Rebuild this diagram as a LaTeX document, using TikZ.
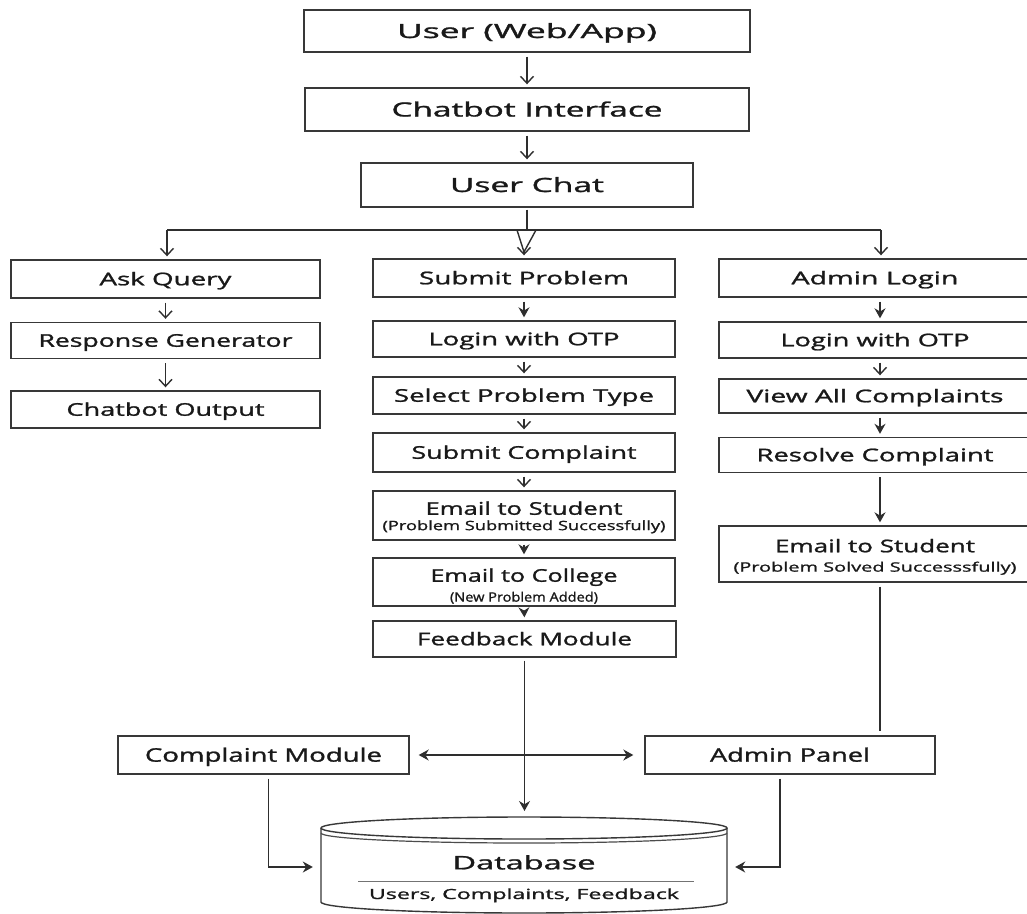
\documentclass[tikz,border=0pt]{standalone}
\usepackage{fontspec}
\setmainfont{Open Sans}[FakeBold=1.2]
\usetikzlibrary{arrows.meta,calc}
\newcommand\tw[2]{\resizebox{#1pt}{\height}{#2}}
\tikzset{
 box/.style={draw=black!78, line width=1.4pt, inner sep=0pt, text=black!90, text depth=0pt},
 fbig/.style={font=\fontsize{19.6}{23}\selectfont, text height=14pt},
 fmid/.style={font=\fontsize{17.5}{21}\selectfont, text height=12.5pt},
 fbot/.style={font=\fontsize{18.6}{22}\selectfont, text height=13.3pt},
 fsub/.style={font=\fontsize{13}{15}\selectfont, text height=9.3pt},
 fdb/.style={font=\fontsize{14}{16}\selectfont, text height=10pt},
 txt/.style={inner sep=0pt, text=black!90, text depth=0pt},
 conn/.style={draw=black!82, line width=1.4pt},
 arrv/.style={conn, -{Straight Barb[length=7pt,width=13pt,line width=1.4pt]}},
 arrf/.style={conn, -{Stealth[length=10pt,width=11pt]}},
 gap/.style={shorten <=4pt, shorten >=3pt},
}
\begin{document}
\begin{tikzpicture}[x=1pt,y=-1pt]
\useasboundingbox (0,0) rectangle (1027,913);
% top chain
\node[box,fbig,minimum width=446pt,minimum height=42pt] (user) at (527,31) {\tw{260}{User (Web/App)}};
\node[box,fbig,minimum width=444pt,minimum height=43pt] (ci) at (527,109.5) {\tw{271}{Chatbot Interface}};
\node[box,fbig,minimum width=332pt,minimum height=44pt] (uc) at (527,185) {\tw{154}{User Chat}};
\draw[arrv,gap] (user.south) -- (ci.north);
\draw[arrv,gap] (ci.south) -- (uc.north);
% left column
\node[box,fmid,minimum width=309pt,minimum height=38pt] (ask) at (165.5,279) {\tw{132}{Ask Query}};
\node[box,fmid,minimum width=309pt,minimum height=36pt] (resp) at (165.5,340.5) {\tw{254}{Response Generator}};
\node[box,fmid,minimum width=309pt,minimum height=37pt] (out) at (165.5,409.5) {\tw{198}{Chatbot Output}};
\draw[arrv,gap] (ask.south) -- (resp.north);
\draw[arrv,gap] (resp.south) -- (out.north);
% middle column
\node[box,fmid,minimum width=302pt,minimum height=38pt] (sp) at (524,278) {\tw{210}{Submit Problem}};
\node[box,fmid,minimum width=302pt,minimum height=36pt] (lo1) at (524,339) {\tw{191}{Login with OTP}};
\node[box,fmid,minimum width=302pt,minimum height=37pt] (spt) at (524,395.5) {\tw{260}{Select Problem Type}};
\node[box,fmid,minimum width=302pt,minimum height=39pt] (sc) at (524,452.5) {\tw{225}{Submit Complaint}};
\node[box,minimum width=302pt,minimum height=49pt] (es) at (524,515.5) {};
\node[txt,fmid] (esA) at (524,508.5) {\tw{197}{Email to Student}};
\node[txt,fsub] (esB) at (524,525.5) {\tw{283}{(Problem Submitted Successfully)}};
\node[box,minimum width=302pt,minimum height=48pt] (ec) at (524,582) {};
\node[txt,fmid] (ecA) at (524,575.5) {\tw{187}{Email to College}};
\node[txt,fsub] (ecB) at (524,597) {\tw{148}{(New Problem Added)}};
\node[box,fmid,minimum width=303pt,minimum height=36pt] (fm) at (524.5,639) {\tw{215}{Feedback Module}};
\draw[arrf,gap] (sp.south) -- (lo1.north);
\draw[arrv,gap] (lo1.south) -- (spt.north);
\draw[arrv,gap] (spt.south) -- (sc.north);
\draw[arrv,gap] (sc.south) -- (es.north);
\draw[arrf,gap] (es.south) -- (ec.north);
\draw[arrf,gap] (ec.south) -- (fm.north);
% right column
\node[box,fmid,minimum width=312pt,minimum height=38pt] (al) at (875,278) {\tw{167}{Admin Login}};
\node[box,fmid,minimum width=312pt,minimum height=36pt] (lo2) at (875,340) {\tw{189}{Login with OTP}};
\node[box,fmid,minimum width=312pt,minimum height=34pt] (va) at (875,396) {\tw{257}{View All Complaints}};
\node[box,fmid,minimum width=312pt,minimum height=35pt] (rc) at (875,455) {\tw{237}{Resolve Complaint}};
\node[box,minimum width=312pt,minimum height=56pt] (es2) at (875,554) {};
\node[txt,fmid] (es2A) at (875,546) {\tw{200}{Email to Student}};
\node[txt,fsub] (es2B) at (875,567) {\tw{283}{(Problem Solved Successsfully)}};
\draw[arrf,gap] ([xshift=5pt]al.south) -- ([xshift=5pt]lo2.north);
\draw[arrv,gap] ([xshift=5pt]lo2.south) -- ([xshift=5pt]va.north);
\draw[arrf,gap] ([xshift=5pt]va.south) -- ([xshift=5pt]rc.north);
\draw[arrf,gap] ([xshift=5pt]rc.south) -- ([xshift=5pt]es2.north);
% branch from User Chat
\coordinate (j) at (527,230);
\coordinate (jl) at (167,230);
\coordinate (jr) at (881,230);
\coordinate (vl) at (517,230);
\coordinate (vr) at (536,230);
\coordinate (vt) at (524,252);
\draw[conn] ([yshift=-2pt]uc.south) -- (j);
\draw[conn] (jl) -- (jr);
\draw[conn] (vl) -- (vt) -- (vr);
\draw[arrv,shorten >=3pt] (jl) -- (jl |- ask.north);
\draw[arrv,shorten >=3pt] (jr) -- (jr |- al.north);
\draw[arrv,shorten >=3pt] (vt) -- (vt |- sp.north);
% bottom modules
\node[box,fbot,minimum width=291pt,minimum height=38pt] (cm) at (263.5,755) {\tw{237}{Complaint Module}};
\node[box,fbot,minimum width=290pt,minimum height=38pt] (ap) at (790,755) {\tw{160}{Admin Panel}};
% database cylinder
\draw[draw=black!78, line width=1.4pt, fill=white] (321,828) -- (321,902) arc[start angle=180, end angle=360, x radius=203pt, y radius=11pt] -- (727,828);
\draw[draw=black!78, line width=1.4pt] (524,828) ellipse [x radius=203pt, y radius=11pt];
\draw[draw=black!70, line width=1.2pt] (321,833) arc[start angle=180, end angle=360, x radius=203pt, y radius=10pt];
\node[inner sep=0pt, minimum width=406pt, minimum height=90pt] (db) at (524,867) {};
\coordinate (dbtop) at (524.5,817);
\node[txt,fbot] (dbA) at (524,862.7) {\tw{143}{Database}};
\draw[draw=black!55, line width=1pt] (358,881) -- (694,881);
\node[txt,fdb] (dbB) at (524,894) {\tw{310}{Users, Complaints, Feedback}};
% connectors to database
\draw[arrf, shorten <=3pt, shorten >=6pt] (fm.south) -- (dbtop);
\draw[arrf, shorten <=4pt] ([xshift=5pt]cm.south) |- ([xshift=-8pt]db.west);
\draw[arrf, shorten <=4pt] ([xshift=-10pt]ap.south) |- ([xshift=8pt]db.east);
\draw[conn, {Stealth[length=10pt,width=11pt]}-{Stealth[length=10pt,width=11pt]}, shorten <=9pt, shorten >=11pt] (cm.east) -- (ap.west);
\coordinate (apin) at (880,731);
\draw[conn, shorten <=4pt] ([xshift=5pt]es2.south) -- (apin);
\end{tikzpicture}
\end{document}
